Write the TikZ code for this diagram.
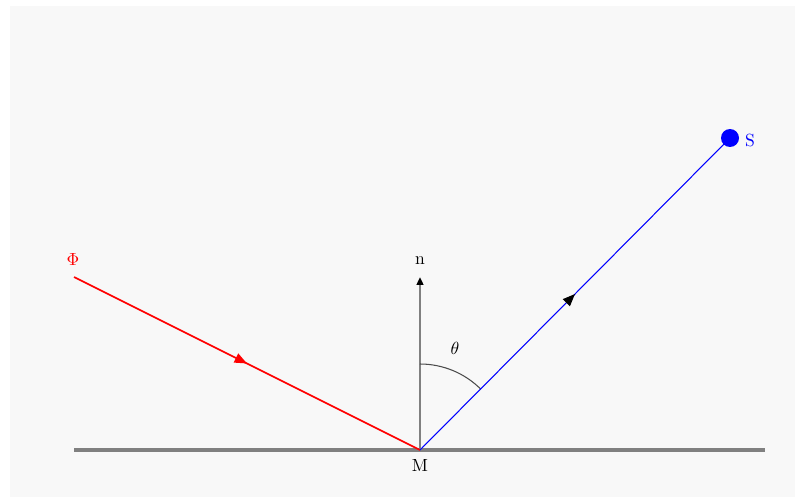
\documentclass[tikz,border=0pt]{standalone}
\usetikzlibrary{arrows.meta, decorations.markings}
\definecolor{bg}{gray}{0.973}
\definecolor{ground}{gray}{0.5}
\definecolor{arcgray}{gray}{0.3}

\begin{document}
\begin{tikzpicture}[
  x=0.02cm, y=-0.02cm,
  lbl/.style={font=\normalsize, inner sep=1pt},
  floor/.style={draw=ground, line width=2pt},
  normal/.style={draw=ground, line width=1.4pt, -{Triangle[length=4.5pt, width=3.8pt, color=black]}},
  incoming/.style={draw=red, line width=0.9pt, postaction={decorate},
    decoration={markings, mark=at position 0.5 with {\arrow{Triangle[length=7pt, width=5.6pt, color=red]}}}},
  outgoing/.style={draw=blue, line width=0.6pt, postaction={decorate},
    decoration={markings, mark=at position 0.5 with {\arrow{Triangle[length=7pt, width=5.6pt, color=black]}}}},
  dot/.style={circle, fill=blue, inner sep=0pt, minimum size=0.36cm},
]
\useasboundingbox (0,0) rectangle (795,497);
\fill[bg] (10,6) rectangle (795,497);

\coordinate (M) at (420,450);
\coordinate (gl) at (74,450);
\coordinate (gr) at (765,450);
\coordinate (ntip) at (420,277);
\coordinate (P) at (74,277);
\node[dot] (S) at (730,138) {};

\node[lbl] (Mlbl) at (420,465) {M};
\node[lbl] (nlbl) at (420,261) {n};
\node[lbl, text=red] (philbl) at (73,259) {$\Phi$};
\node[lbl, text=blue] (Slbl) at (750,140) {S};
\node[lbl] (thlbl) at (455,348) {$\theta$};

\draw[floor] (gl) -- (gr);
\draw[normal] (M) -- (ntip);
\draw[arcgray, line width=0.6pt] (420,364) arc[start angle=-90, end angle=-45, radius=86];
\draw[incoming] (P) -- (M);
\draw[outgoing] (M) -- (S.center);
\end{tikzpicture}
\end{document}
